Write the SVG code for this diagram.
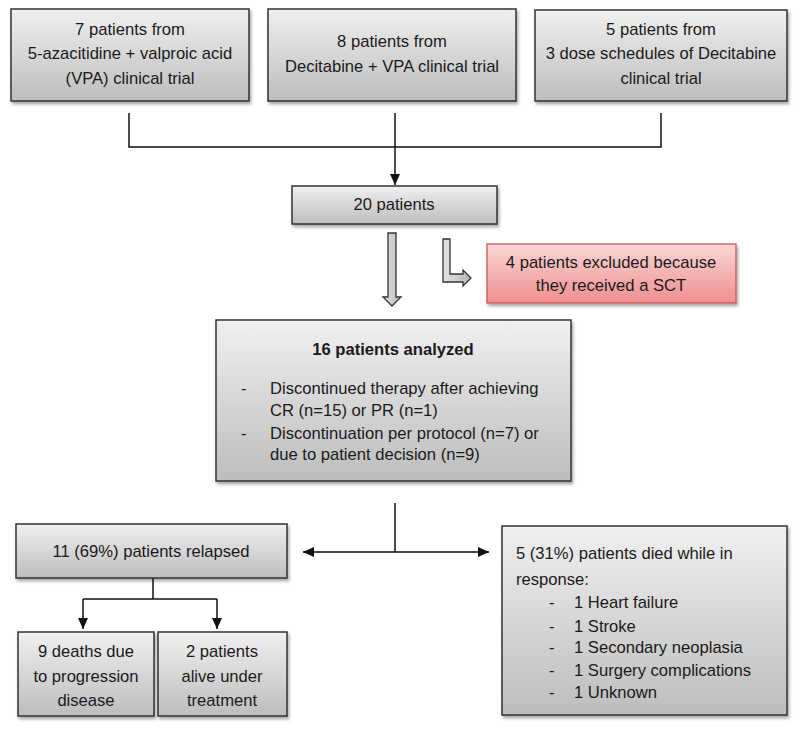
<svg xmlns="http://www.w3.org/2000/svg" width="800" height="731" viewBox="0 0 800 731">
<defs>
<linearGradient id="gGray" x1="0" y1="0" x2="0" y2="1">
<stop offset="0" stop-color="#f0f0f0"/>
<stop offset="1" stop-color="#bdbdbd"/>
</linearGradient>
<linearGradient id="gRed" x1="0" y1="0" x2="0" y2="1">
<stop offset="0" stop-color="#fbd6d6"/>
<stop offset="1" stop-color="#ef8f8f"/>
</linearGradient>
<linearGradient id="gArrow" x1="0" y1="0" x2="1" y2="0">
<stop offset="0" stop-color="#e4e4e4"/>
<stop offset="1" stop-color="#b8b8b8"/>
</linearGradient>
<filter id="shadow" x="-5%" y="-5%" width="115%" height="125%">
<feDropShadow dx="1.5" dy="2.5" stdDeviation="1.8" flood-color="#000" flood-opacity="0.35"/>
</filter>
<marker id="arr" markerUnits="userSpaceOnUse" markerWidth="12" markerHeight="12" viewBox="0 0 12 12" refX="11" refY="6" orient="auto">
<path d="M0,1 L11,6 L0,11 Z" fill="#111"/>
</marker>
</defs>
<style>
.box{fill:url(#gGray);stroke:#333;stroke-width:1.5;filter:url(#shadow)}
.red{fill:url(#gRed);stroke:#c85a5a;stroke-width:1.3;filter:url(#shadow)}
.t{font-family:"Liberation Sans",Arial,sans-serif;font-size:16.6px;fill:#1a1a1a}
.c{text-anchor:middle}
.b{font-weight:bold}
.ln{fill:none;stroke:#111;stroke-width:1.5}
.blk{fill:url(#gArrow);stroke:#333;stroke-width:1.3;stroke-linejoin:miter}
</style>
<rect width="800" height="731" fill="#fff"/>

<g id="connectors">
<path class="ln" d="M129,113 V147 H661 V113"/>
<path class="ln" d="M395,113 V185" marker-end="url(#arr)"/>
<polygon class="blk" points="388,233 396,233 396,297 401,297 392,306 383,297 388,297"/>
<polygon class="blk" points="443,239 450,239 450,274 463,274 463,270 471,278 463,286 463,282 443,282"/>
<path class="ln" d="M395,503 V552"/>
<path class="ln" d="M395,552 H303" marker-end="url(#arr)"/>
<path class="ln" d="M395,552 H489" marker-end="url(#arr)"/>
<path class="ln" d="M153,578 V599"/>
<path class="ln" d="M83,599 H217"/>
<path class="ln" d="M83,599 V629" marker-end="url(#arr)"/>
<path class="ln" d="M217,599 V629" marker-end="url(#arr)"/>
</g>

<g id="trial-aza-vpa">
<rect class="box" x="11" y="9" width="238" height="92"/>
<text class="t c" x="130" y="35">7 patients from</text>
<text class="t c" x="130" y="59">5-azacitidine + valproic acid</text>
<text class="t c" x="130" y="84">(VPA) clinical trial</text>
</g>

<g id="trial-dec-vpa">
<rect class="box" x="268" y="9" width="248" height="92"/>
<text class="t c" x="392" y="47">8 patients from</text>
<text class="t c" x="392" y="72">Decitabine + VPA clinical trial</text>
</g>

<g id="trial-dec-doses">
<rect class="box" x="535" y="10" width="252" height="91"/>
<text class="t c" x="661" y="35">5 patients from</text>
<text class="t c" x="661" y="59">3 dose schedules of Decitabine</text>
<text class="t c" x="661" y="84">clinical trial</text>
</g>

<g id="total-20">
<rect class="box" x="292" y="186" width="205" height="38"/>
<text class="t c" x="394" y="210">20 patients</text>
</g>

<g id="excluded">
<rect class="red" x="487" y="244" width="249" height="59"/>
<text class="t c" x="611" y="268">4 patients excluded because</text>
<text class="t c" x="611" y="291">they received a SCT</text>
</g>

<g id="analyzed-16">
<rect class="box" x="216" y="320" width="355" height="161"/>
<text class="t c b" x="393" y="355">16 patients analyzed</text>
<text class="t" x="241" y="394">-</text>
<text class="t" x="270" y="394">Discontinued therapy after achieving</text>
<text class="t" x="270" y="416">CR (n=15) or PR (n=1)</text>
<text class="t" x="241" y="439">-</text>
<text class="t" x="270" y="439">Discontinuation per protocol (n=7) or</text>
<text class="t" x="270" y="460">due to patient decision (n=9)</text>
</g>

<g id="relapsed">
<rect class="box" x="16" y="524" width="271" height="54"/>
<text class="t c" x="151" y="557">11 (69%) patients relapsed</text>
</g>

<g id="deaths-progression">
<rect class="box" x="18" y="632" width="136" height="84"/>
<text class="t c" x="86" y="657">9 deaths due</text>
<text class="t c" x="86" y="682">to progression</text>
<text class="t c" x="86" y="706">disease</text>
</g>

<g id="alive-treatment">
<rect class="box" x="158" y="632" width="129" height="84"/>
<text class="t c" x="222" y="657">2 patients</text>
<text class="t c" x="222" y="682">alive under</text>
<text class="t c" x="222" y="706">treatment</text>
</g>

<g id="died-in-response">
<rect class="box" x="502" y="526" width="285" height="189"/>
<text class="t" x="516" y="559">5 (31%) patients died while in</text>
<text class="t" x="516" y="585">response:</text>
<text class="t" x="549" y="608">-</text>
<text class="t" x="574" y="608">1 Heart failure</text>
<text class="t" x="549" y="632">-</text>
<text class="t" x="574" y="632">1 Stroke</text>
<text class="t" x="549" y="653">-</text>
<text class="t" x="574" y="653">1 Secondary neoplasia</text>
<text class="t" x="549" y="676">-</text>
<text class="t" x="574" y="676">1 Surgery complications</text>
<text class="t" x="549" y="698">-</text>
<text class="t" x="574" y="698">1 Unknown</text>
</g>
</svg>
